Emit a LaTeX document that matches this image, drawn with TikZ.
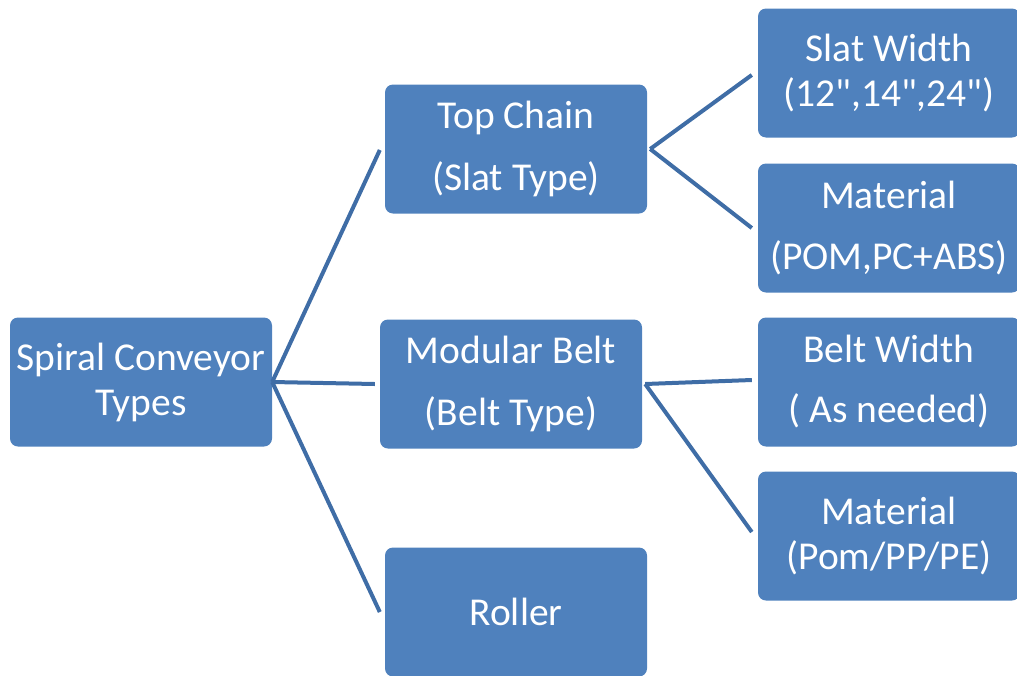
\documentclass[tikz,border=0pt]{standalone}
\usepackage{fontspec}
\setmainfont{Carlito}
\setmonofont{Carlito}
\definecolor{boxblue}{HTML}{4F81BD}
\definecolor{lineblue}{HTML}{3F6DA6}
\newcommand{\dq}{{\ttfamily\symbol{34}}}
\begin{document}
\begin{tikzpicture}[x=1pt,y=1pt,
  box/.style={draw=none, fill=boxblue, rounded corners=8pt, inner sep=0pt,
    minimum width=262pt, minimum height=129pt, text=white, align=center,
    font=\fontsize{39.5}{45}\selectfont},
  conn/.style={draw=lineblue, line width=4pt}]
\useasboundingbox (0,0) rectangle (1017,-675);
% boxes (centres in px, y downward)
\node[box] (root) at (141,-382) {Spiral Conveyor\\Types};
\node[box] (tc)   at (516,-149) {Top Chain\\[17pt](Slat Type)};
\node[box] (mb)   at (511,-384) {Modular Belt\\[17pt](Belt Type)};
\node[box] (rl)   at (516,-612) {Roller};
\node[box] (sw)   at (889,-73)  {Slat Width\\(12\dq,14\dq,24\dq)};
\node[box] (m1)   at (889,-228) {Material\\[16pt](POM,PC+ABS)};
\node[box] (bw)   at (889,-382) {Belt Width\\[15pt]( As needed)};
\node[box] (m2)   at (889,-536) {Material\\(Pom/PP/PE)};
% connectors
\draw[conn] (root.east) -- ([xshift=-5pt,yshift=-1pt]tc.west);
\draw[conn] (root.east) -- ([xshift=-5pt]mb.west);
\draw[conn] (root.east) -- ([xshift=-5pt]rl.west);
\draw[conn] ([xshift=3pt]tc.east) -- ([xshift=-6pt,yshift=-2pt]sw.west);
\draw[conn] ([xshift=3pt]tc.east) -- ([xshift=-6pt]m1.west);
\draw[conn] ([xshift=3pt]mb.east) -- ([xshift=-6pt,yshift=2pt]bw.west);
\draw[conn] ([xshift=3pt]mb.east) -- ([xshift=-6pt,yshift=4pt]m2.west);
\end{tikzpicture}
\end{document}
